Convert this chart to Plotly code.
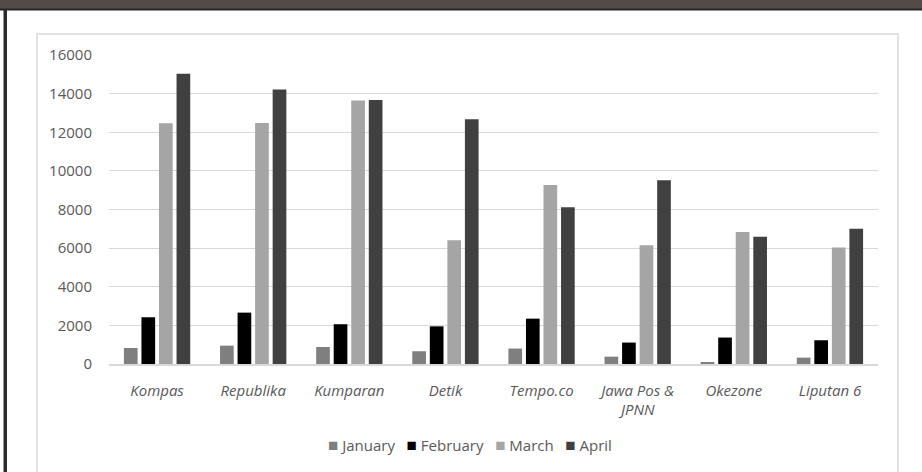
import plotly.graph_objects as go

categories = ["Kompas", "Republika", "Kumparan", "Detik", "Tempo.co",
              "Jawa Pos &<br>JPNN", "Okezone", "Liputan 6"]
january = [830, 950, 880, 660, 800, 380, 100, 330]
february = [2420, 2660, 2060, 1950, 2350, 1110, 1370, 1230]
march = [12470, 12480, 13640, 6410, 9270, 6150, 6830, 6030]
april = [15030, 14210, 13670, 12670, 8120, 9520, 6590, 7000]
series_names = ["January", "February", "March", "April"]
series_colors = ["#7f7f7f", "#000000", "#a5a5a5", "#404040"]
y_ticks = [0, 2000, 4000, 6000, 8000, 10000, 12000, 14000, 16000]

W, H = 922, 472
L, R, T, B = 109, 878, 55, 364  # plot area pixels

fig = go.Figure()
for name, vals, col in zip(series_names, [january, february, march, april], series_colors):
    fig.add_trace(go.Bar(x=categories, y=vals, name=name, marker_color=col,
                         marker_line_width=0, showlegend=False))


def px_x(p):
    return (p - L) / (R - L)


def px_y(p):
    return (B - p) / (B - T)


shapes = [
    dict(type="rect", xref="paper", yref="paper", x0=px_x(37), x1=px_x(898),
         y0=px_y(490), y1=px_y(34), line=dict(color="#d9d9d9", width=1.5),
         fillcolor="rgba(0,0,0,0)", layer="below"),
    dict(type="rect", xref="paper", yref="paper", x0=px_x(-5), x1=px_x(930),
         y0=px_y(9), y1=px_y(-5), line=dict(width=0), fillcolor="#544a47"),
    dict(type="rect", xref="paper", yref="paper", x0=px_x(-5), x1=px_x(930),
         y0=px_y(10.5), y1=px_y(8.5), line=dict(width=0), fillcolor="#262626"),
    dict(type="rect", xref="paper", yref="paper", x0=px_x(3.5), x1=px_x(7),
         y0=px_y(480), y1=px_y(9), line=dict(width=0), fillcolor="#2b2b2b"),
]

legend_text = "&nbsp;&nbsp;&nbsp;".join(
    f"<span style='color:{c};font-size:17px'>■</span>&nbsp;{n}"
    for n, c in zip(series_names, series_colors)
)

fig.update_layout(
    width=W, height=H,
    margin=dict(l=L, r=W - R, t=T, b=H - B, pad=0),
    paper_bgcolor="white", plot_bgcolor="white",
    barmode="group", bargap=0.27, bargroupgap=0.22,
    font=dict(family="Open Sans", color="#595959", size=14),
    shapes=shapes,
    showlegend=False,
    annotations=[dict(xref="paper", yref="paper", x=px_x(470), y=px_y(445),
                      xanchor="center", yanchor="middle", showarrow=False,
                      text=legend_text,
                      font=dict(family="Open Sans", size=15, color="#595959"))],
    xaxis=dict(showgrid=False, showline=True, linecolor="#d9d9d9", linewidth=1.5,
               ticks="", tickfont=dict(family="Open Sans", size=15, style="italic",
                                       color="#595959"),
               ticklabelstandoff=12),
    yaxis=dict(range=[0, 16000], tickvals=y_ticks, tickformat="d", showgrid=True,
               gridcolor="#d9d9d9", gridwidth=1.3, zeroline=False, showline=False,
               ticks="", tickfont=dict(family="Open Sans", size=15, color="#595959"),
               ticklabelstandoff=16),
)

fig.write_html("out.html")
